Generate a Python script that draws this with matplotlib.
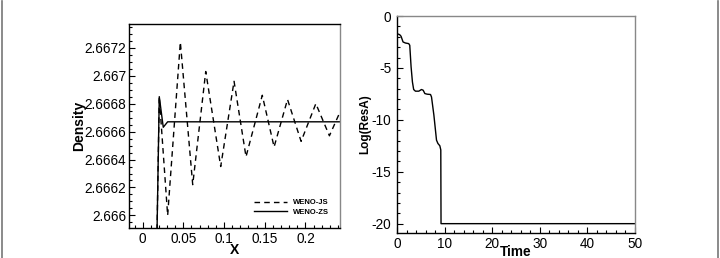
import matplotlib
matplotlib.use("Agg")
import matplotlib.pyplot as plt
from matplotlib.ticker import MultipleLocator
from matplotlib.lines import Line2D

plt.rcParams['font.family'] = ['Liberation Sans', 'DejaVu Sans']
plt.rcParams['axes.unicode_minus'] = False

# Density vs X
x_js = [0.0151, 0.0204, 0.0307, 0.0463, 0.0615, 0.0775, 0.0959, 0.1123, 0.127,
        0.147, 0.1615, 0.178, 0.1947, 0.2128, 0.2295, 0.2425]
rho_js = [2.6650, 2.66685, 2.66600, 2.66724, 2.66622, 2.66703, 2.66635, 2.66696,
          2.66642, 2.66686, 2.66649, 2.66683, 2.66653, 2.66680, 2.66657, 2.66674]
x_zs = [0.0151, 0.0151, 0.0204, 0.0253, 0.0307, 0.2425]
rho_zs = [2.6650, 2.6650, 2.66685, 2.666631, 2.66667, 2.66667]

# Log residual vs time
t = [0, 0.56, 0.85, 1.27, 1.76, 2.46, 2.68, 2.96, 3.24, 3.5, 3.87, 4.58, 5.14,
     5.5, 5.85, 6.34, 7.04, 7.25, 7.75, 8.3, 8.6, 9.0, 9.2, 9.25, 50]
res = [-1.7, -1.8, -1.95, -2.5, -2.6, -2.66, -2.82, -4.9, -6.35, -7.08, -7.24,
       -7.24, -7.08, -7.15, -7.47, -7.53, -7.56, -7.8, -9.55, -11.96, -12.28,
       -12.5, -12.9, -20, -20]

fig = plt.figure(figsize=(7.2, 2.58), dpi=100)

tick_fs = 9.8

def style(ax):
    ax.tick_params(which='both', direction='in', top=False, right=False,
                   labelsize=tick_fs, colors='black')
    ax.tick_params(which='major', length=4, width=0.8)
    ax.tick_params(which='minor', length=2, width=0.8)
    for s in ax.spines.values():
        s.set_linewidth(1.0)

# left panel
ax1 = fig.add_axes([129 / 720, 1 - 228 / 258, 211 / 720, 204 / 258])
ax1.plot(x_js, rho_js, color='black', lw=1.0, dashes=(4, 3), label='WENO-JS')
ax1.plot(x_zs, rho_zs, color='black', lw=1.0, label='WENO-ZS')
ax1.set_xlim(-0.0168, 0.2425)
ax1.set_ylim(2.66591, 2.66737)
ax1.xaxis.set_minor_locator(MultipleLocator(0.01))
ax1.yaxis.set_minor_locator(MultipleLocator(0.00005))
ax1.set_xticks([0, 0.05, 0.1, 0.15, 0.2])
ax1.set_xticklabels(['0', '0.05', '0.1', '0.15', '0.2'])
yt = [2.666, 2.6662, 2.6664, 2.6666, 2.6668, 2.667, 2.6672]
ax1.set_yticks(yt)
ax1.set_yticklabels(['2.666', '2.6662', '2.6664', '2.6666', '2.6668', '2.667', '2.6672'])
style(ax1)
ax1.tick_params(axis='y', pad=2)
ax1.tick_params(axis='x', pad=3)
ax1.spines['right'].set_color('#888888')
ax1.set_xlabel('X', fontsize=10, fontweight='bold', labelpad=-2.5)
ax1.set_ylabel('Density', fontsize=10, fontweight='bold', labelpad=-1)
leg = ax1.legend(loc='lower right', bbox_to_anchor=(0.975, 0.035), frameon=False,
                 prop={'size': 5.5, 'weight': 'bold'}, handlelength=4.3,
                 handletextpad=0.8, labelspacing=0.25, borderpad=0.2)

# right panel
ax2 = fig.add_axes([397 / 720, 1 - 233 / 258, 238 / 720, 217 / 258])
ax2.plot(t, res, color='black', lw=1.0)
ax2.set_xlim(0, 50)
ax2.set_ylim(-20.9, 0)
ax2.xaxis.set_major_locator(MultipleLocator(10))
ax2.xaxis.set_minor_locator(MultipleLocator(2))
ax2.set_yticks([-20, -15, -10, -5, 0])
ax2.yaxis.set_minor_locator(MultipleLocator(1))
style(ax2)
ax2.tick_params(axis='y', pad=4)
ax2.tick_params(axis='x', pad=3)
ax2.spines['right'].set_color('#888888')
ax2.spines['top'].set_color('#888888')
ax2.set_xlabel('Time', fontsize=9.8, fontweight='bold', labelpad=-4.5)
ax2.set_ylabel('Log(ResA)', fontsize=8.5, fontweight='bold', labelpad=0)

# outer frame edges
fig.add_artist(Line2D([1.5 / 720, 1.5 / 720], [0, 0.995], transform=fig.transFigure,
                      color='#777777', lw=1.2))
fig.add_artist(Line2D([717.5 / 720, 717.5 / 720], [0, 0.995], transform=fig.transFigure,
                      color='#777777', lw=1.2))

fig.savefig('out.png', dpi=100)
